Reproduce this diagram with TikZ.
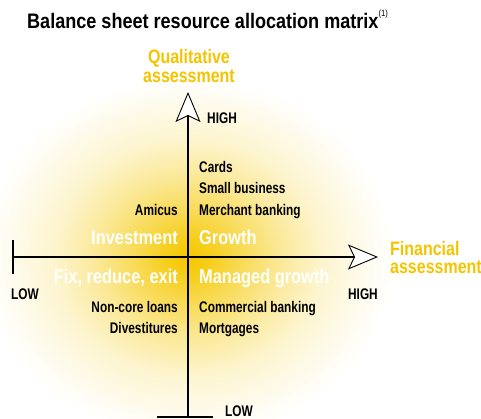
\documentclass[tikz,border=0pt]{standalone}
\usepackage{fontspec}
\setmainfont{Liberation Sans}[FakeStretch=0.77]
\newfontfamily\widefont{Liberation Sans}[FakeStretch=0.82]
\newfontfamily\titlefont{Liberation Sans}[FakeStretch=0.86]
\usetikzlibrary{arrows.meta}
\definecolor{glowc}{RGB}{245,200,0}
\definecolor{labyellow}{RGB}{245,196,0}
\pgfdeclareradialshading{glow}{\pgfpoint{0bp}{0bp}}{%
  color(0bp)=(glowc);
  color(2.5bp)=(glowc!90);
  color(6bp)=(glowc!68);
  color(11bp)=(glowc!40);
  color(16bp)=(glowc!19);
  color(21bp)=(glowc!7);
  color(24.5bp)=(white);
  color(50bp)=(white)}
\begin{document}
\begin{tikzpicture}[x=1pt,y=-1pt,
  ttl/.style={anchor=base west,inner sep=0pt,font=\titlefont\fontsize{21}{21}\selectfont\bfseries},
  ylab/.style={inner sep=0pt,text=labyellow,font=\widefont\fontsize{19.5}{19}\selectfont\bfseries},
  wlab/.style={inner sep=0pt,text=white,font=\widefont\fontsize{20}{20}\selectfont\bfseries},
  blab/.style={inner sep=0pt,text=black,font=\fontsize{15.4}{15}\selectfont\bfseries},
  axis/.style={line width=1.1pt,black},
  tip/.style={-{Stealth[length=30pt,width=25pt,inset=6pt,fill=white,line width=0.9pt]}}]
\useasboundingbox (0,0) rectangle (481,418);
\shade[shading=glow] (188,257) ellipse [x radius=210, y radius=185];
% axes
\coordinate (origin) at (188,257);
\coordinate (vtop) at (188,92);
\coordinate (vbot) at (188,417);
\coordinate (hleft) at (13,257);
\coordinate (hright) at (378,257);
\coordinate (bt1) at (157,417);
\coordinate (bt2) at (213,417);
\coordinate (lt1) at (13,240);
\coordinate (lt2) at (13,274);
\draw[axis,tip] (vbot) -- (vtop);
\draw[axis,tip] (hleft) -- (hright);
\draw[axis] (bt1) -- (bt2);
\draw[axis] (lt1) -- (lt2);
% title
\node[ttl] (title) at (27,28) {Balance sheet resource allocation matrix\raisebox{0.55em}{\fontsize{9}{9}\selectfont\mdseries(1)}};
% axis labels
\node[ylab,anchor=base,align=center] (qual) at (189,82) {Qualitative\\[-0.5pt]assessment};
\node[ylab,anchor=base west,align=left] (fin) at (390,273) {Financial\\[-1pt]assessment};
\node[blab,anchor=base west] (vhigh) at (207,123) {HIGH};
\node[blab,anchor=base west] (vlow) at (225,416) {LOW};
\node[blab,anchor=base west] (hlow) at (11,299) {LOW};
\node[blab,anchor=base east] (hhigh) at (378,299) {HIGH};
% quadrant names
\node[wlab,anchor=base east] (inv) at (178,244) {Investment};
\node[wlab,anchor=base west] (gro) at (199,244) {Growth};
\node[wlab,anchor=base east] (fix) at (178,283) {Fix, reduce, exit};
\node[wlab,anchor=base west] (mgr) at (199,283) {Managed growth};
% items
\node[blab,anchor=base west] (cards) at (199,172) {Cards};
\node[blab,anchor=base west] (small) at (199,193) {Small business};
\node[blab,anchor=base west] (merch) at (199,215) {Merchant banking};
\node[blab,anchor=base east] (amic) at (178,215) {Amicus};
\node[blab,anchor=base east] (ncl) at (178,312) {Non-core loans};
\node[blab,anchor=base east] (div) at (178,333) {Divestitures};
\node[blab,anchor=base west] (comm) at (199,312) {Commercial banking};
\node[blab,anchor=base west] (mort) at (199,333) {Mortgages};
\end{tikzpicture}
\end{document}
